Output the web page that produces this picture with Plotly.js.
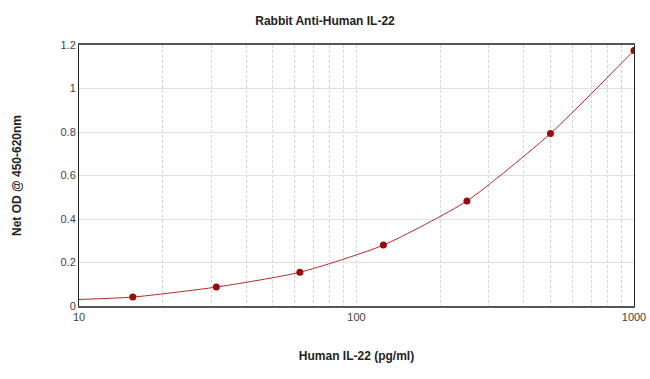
<!DOCTYPE html>
<html>
<head>
<meta charset="utf-8">
<script src="https://cdn.plot.ly/plotly-3.0.1.min.js"></script>
<style>html,body{margin:0;padding:0;background:#fff;}#chart{width:650px;height:379px;}</style>
</head>
<body>
<div id="chart"></div>
<script>
// Standard points
const concentrations = [15.625, 31.25, 62.5, 125, 250, 500, 1000];
const odValues = [0.041, 0.087, 0.155, 0.28, 0.483, 0.793, 1.175];
// Fitted curve
const curveX = [10, 15.625, 31.25, 62.5, 125, 250, 500, 1000];
const curveY = [0.03, 0.041, 0.087, 0.155, 0.28, 0.483, 0.793, 1.175];
const xTickVals = [10, 100, 1000];
const xTickText = ['10', '100', '1000'];
const yTickVals = [0, 0.2, 0.4, 0.6, 0.8, 1, 1.2];
const yTickText = ['0', '0.2', '0.4', '0.6', '0.8', '1', '1.2'];

const traces = [
  {x: curveX, y: curveY, mode: 'lines', type: 'scatter', line: {color: '#b22a2a', width: 1, shape: 'spline', smoothing: 0.6}, hoverinfo: 'skip'},
  {x: concentrations, y: odValues, mode: 'markers', type: 'scatter', marker: {color: '#9b0a0a', size: 7}}
];

const layout = {
  width: 650, height: 379,
  margin: {l: 79, r: 16, t: 45, b: 73},
  paper_bgcolor: '#fff', plot_bgcolor: '#fff',
  showlegend: false,
  font: {family: 'Arial, Liberation Sans, sans-serif', color: '#555', size: 11},
  title: {text: 'Rabbit Anti-Human IL-22', x: 0.5, xanchor: 'center', y: 0.945, yanchor: 'middle', font: {size: 12, color: '#222', weight: 'bold'}},
  xaxis: {
    type: 'log', range: [1, 3], tickvals: xTickVals, ticktext: xTickText,
    showgrid: true, gridcolor: '#d4d4d4', griddash: '3px,2px', gridwidth: 1,
    minor: {dtick: 'D1', showgrid: true, gridcolor: '#d4d4d4', griddash: '3px,2px', gridwidth: 1, ticks: ''},
    showline: true, linecolor: '#555', linewidth: 2, mirror: true,
    ticks: '', zeroline: false,
    tickfont: {size: 11, color: '#444'},
    title: {text: 'Human IL-22 (pg/ml)', standoff: 29, font: {size: 12, color: '#222', weight: 'bold'}}
  },
  yaxis: {
    range: [0, 1.2], tickvals: yTickVals, ticktext: yTickText,
    showgrid: true, gridcolor: '#e0e0e0', gridwidth: 1,
    showline: true, linecolor: '#222', linewidth: 1, mirror: true,
    ticks: '', zeroline: false,
    tickfont: {size: 11, color: '#444'},
    title: {text: 'Net OD @ 450-620nm', standoff: 36, font: {size: 12, color: '#222', weight: 'bold'}}
  }
};

Plotly.newPlot('chart', traces, layout, {displayModeBar: false, staticPlot: true});
</script>
</body>
</html>
